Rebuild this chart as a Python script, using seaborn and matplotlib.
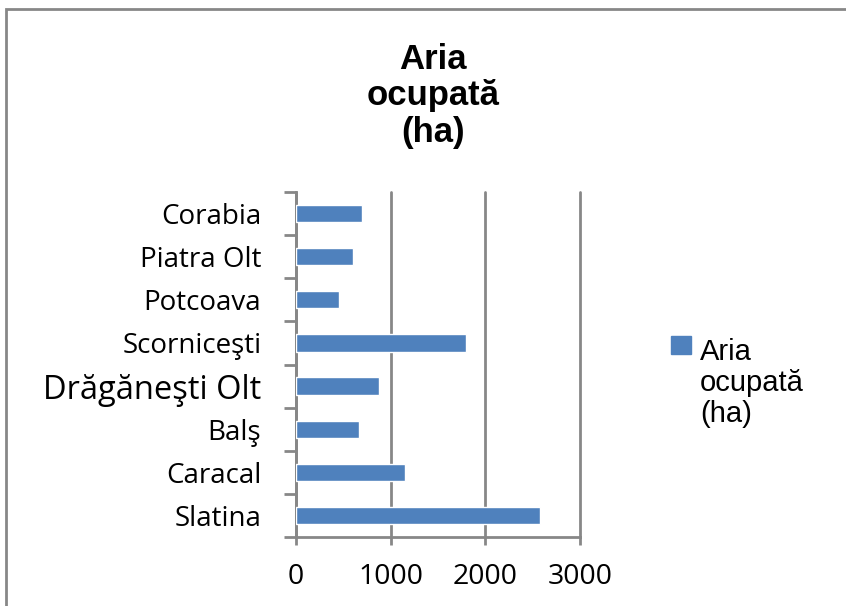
import pandas as pd
import matplotlib.pyplot as plt
import matplotlib.patches as mpatches
import seaborn as sns

# Data (top to bottom)
localitati = ['Corabia', 'Piatra Olt', 'Potcoava', 'Scorniceşti',
              'Drăgăneşti Olt', 'Balş', 'Caracal', 'Slatina']
aria_ha = [700, 600, 450, 1800, 880, 670, 1150, 2580]
x_ticks = [0, 1000, 2000, 3000]
serie = 'Aria\nocupată\n(ha)'

df = pd.DataFrame({'loc': localitati, 'aria': aria_ha})

sns.set_style('white')
plt.rcParams['font.family'] = ['Open Sans', 'DejaVu Sans']
plt.rcParams['text.color'] = 'black'

grey = '#878787'
blue = '#4F81BD'
fig = plt.figure(figsize=(8.46, 6.06), dpi=100)
ax = fig.add_axes([296 / 846, 1 - 537 / 606, (580 - 296) / 846, (537 - 192) / 606])

sns.barplot(data=df, x='aria', y='loc', color=blue, width=0.4,
            saturation=1, ax=ax, zorder=3)

ax.set_xlim(0, 3000)
ax.set_ylim(len(localitati) - 0.5, -0.5)
ax.set_xticks(x_ticks)
ax.set_xticklabels([str(t) for t in x_ticks], fontsize=20.5)
ax.grid(axis='x', color=grey, linewidth=2, zorder=0)
for gl in ax.get_xgridlines():
    gl.set_clip_on(False)
ax.set_xlabel('')
ax.set_ylabel('')

# category labels at centres, tick marks at category boundaries
ax.set_yticks(range(len(localitati)))
ax.set_yticklabels(localitati, fontsize=20)
ax.tick_params(axis='y', which='major', left=False, length=0, pad=25, labelcolor='black')
ax.set_yticks([i - 0.5 for i in range(len(localitati) + 1)], minor=True)
ax.tick_params(axis='y', which='minor', left=True, length=8.5, width=2, color=grey, direction='out')
ax.tick_params(axis='x', bottom=True, length=6, width=2, color=grey, direction='out',
               pad=13, labelcolor='black')
for lbl in ax.get_yticklabels():
    if lbl.get_text().startswith('Dr'):
        lbl.set_fontsize(23.5)

for s in ['top', 'right']:
    ax.spines[s].set_visible(False)
for s in ['left', 'bottom']:
    ax.spines[s].set_color(grey)
    ax.spines[s].set_linewidth(2)

fig.text(433 / 846, 1 - 96 / 606, serie, ha='center', va='center', fontsize=25,
         fontweight='bold', family='Liberation Sans', linespacing=1.15, color='black')

handle = mpatches.Patch(color=blue, label=serie)
leg = fig.legend(handles=[handle], loc='center left', bbox_to_anchor=(671 / 846, 1 - 383 / 606),
                 frameon=False, prop={'family': 'Liberation Sans', 'size': 21},
                 handlelength=0.69, handleheight=0.58, handletextpad=0.3,
                 borderpad=0, borderaxespad=0)
for t in leg.get_texts():
    t.set_color('black')
    t.set_linespacing(1.15)
# put the legend square next to the first line, as in the original
rect = leg.legend_handles[0]
rect.set_y(rect.get_y() + 21 * 1.15 * 1.15)

# chart border
fig.patches.append(mpatches.Rectangle((6 / 846, -0.1), 1.2, 1 - 9 / 606 + 0.1,
                                      transform=fig.transFigure, fill=False,
                                      edgecolor=grey, linewidth=2))

fig.savefig('out.png', dpi=100)
